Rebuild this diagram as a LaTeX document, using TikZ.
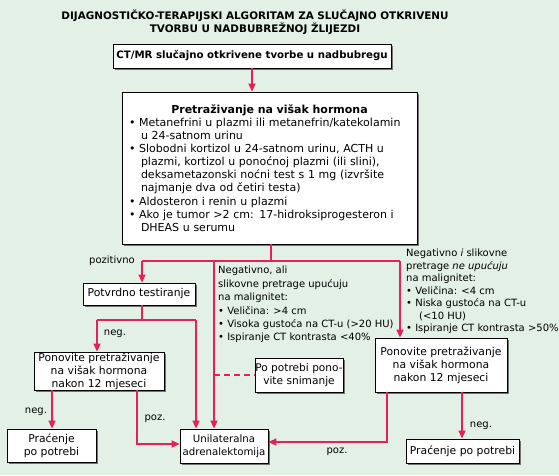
\documentclass[tikz,border=0pt]{standalone}
\usepackage{fontspec}
\setmainfont{DejaVu Sans}
\usetikzlibrary{arrows.meta,shadows}
\definecolor{bgcol}{RGB}{226,240,229}
\definecolor{linkred}{RGB}{230,32,88}
\begin{document}
\begin{tikzpicture}[x=1pt,y=-1pt,
  box/.style={draw=black,line width=0.8pt,fill=white,
    drop shadow={shadow xshift=2pt,shadow yshift=-2pt,fill=black!55,opacity=1},
    inner sep=0pt,align=center,font=\fontsize{10.8}{13}\selectfont},
  conn/.style={draw=linkred,line width=1.6pt},
  redarrow/.style={conn,-{Triangle[length=8pt,width=7pt]}},
  lbl/.style={font=\fontsize{10}{12}\selectfont,inner sep=0pt},
  txtblock/.style={font=\fontsize{10}{12.3}\selectfont,inner sep=0pt,align=left,anchor=north west},
]
\fill[bgcol] (0,0) rectangle (559,475);
\useasboundingbox (0,0) rectangle (559,475);

\node[font=\fontsize{10.4}{12.8}\selectfont\bfseries,align=center,inner sep=0pt] (title) at (255,22)
  {DIJAGNOSTIČKO-TERAPIJSKI ALGORITAM ZA SLUČAJNO OTKRIVENU\\TVORBU U NADBUBREŽNOJ ŽLIJEZDI};

\node[box,minimum width=278pt,minimum height=24pt,font=\fontsize{10.2}{12}\selectfont\bfseries] (ct) at (252,56)
  {CT/MR slučajno otkrivene tvorbe u nadbubregu};

\node[box,minimum width=295pt,minimum height=152pt,text width=281pt,align=left,
  font=\fontsize{11}{13.1}\selectfont] (hor) at (269.5,168)
  {\makebox[\hsize][c]{\bfseries Pretraživanje na višak hormona}\\
   \mbox{• Metanefrini u plazmi ili metanefrin/katekolamin}\\
   \hspace*{12pt}u 24-satnom urinu\\
   \mbox{• Slobodni kortizol u 24-satnom urinu, ACTH u}\\
   \hspace*{12pt}\mbox{plazmi, kortizol u ponoćnoj plazmi (ili slini),}\\
   \hspace*{12pt}\mbox{deksametazonski noćni test s 1 mg (izvršite}\\
   \hspace*{12pt}najmanje dva od četiri testa)\\
   • Aldosteron i renin u plazmi\\
   \mbox{• Ako je tumor >2 cm: 17-hidroksiprogesteron i}\\
   \hspace*{12pt}DHEAS u serumu};

\node[box,minimum width=112pt,minimum height=22pt] (pot) at (139,294) {Potvrdno testiranje};
\node[box,minimum width=130pt,minimum height=38pt] (lpon) at (99,371)
  {Ponovite pretraživanje\\na višak hormona\\nakon 12 mjeseci};
\node[box,minimum width=88pt,minimum height=34pt,font=\fontsize{10.6}{12.5}\selectfont] (ppp) at (299,375)
  {Po potrebi pono-\\vite snimanje};
\node[box,minimum width=132pt,minimum height=54pt] (rpon) at (441,365)
  {Ponovite pretraživanje\\na višak hormona\\nakon 12 mjeseci};
\node[box,minimum width=89pt,minimum height=33pt] (pracl) at (51.5,445.5)
  {Praćenje\\po potrebi};
\node[box,minimum width=88pt,minimum height=34pt,font=\fontsize{10.2}{12.5}\selectfont] (uni) at (224,446)
  {Unilateralna\\adrenalektomija};
\node[box,minimum width=113pt,minimum height=24pt] (pracr) at (462.5,451)
  {Praćenje po potrebi};

\node[txtblock,font=\fontsize{10}{13.4}\selectfont] (midtxt) at (218,266)
  {Negativno, ali\\
   slikovne pretrage upućuju\\
   na malignitet:\\
   • Veličina: >4 cm\\
   • Visoka gustoća na CT-u (>20 HU)\\
   • Ispiranje CT kontrasta <40\%};

\node[txtblock,font=\fontsize{10}{12.5}\selectfont] (righttxt) at (406,249)
  {Negativno \textit{i} slikovne\\
   pretrage \textit{ne upućuju}\\
   na malignitet:\\
   • Veličina: <4 cm\\
   • Niska gustoća na CT-u\\
   \hspace*{13pt}(<10 HU)\\
   • Ispiranje CT kontrasta >50\%};

\node[lbl] (lpoz) at (112,261) {pozitivno};
\node[lbl] (lneg1) at (115,334) {neg.};
\node[lbl] (lneg2) at (36,412) {neg.};
\node[lbl] (lpoz2) at (155,419) {poz.};
\node[lbl] (lpoz3) at (337,452) {poz.};
\node[lbl] (lneg3) at (481,426) {neg.};

% connectors
\draw[redarrow] (ct.south) -- (ct.south |- hor.north);
\coordinate (j) at (271,261);
\coordinate (jl) at (142,261);
\coordinate (jm) at (214,261);
\coordinate (jr) at (400,261);
\draw[conn] (j |- hor.south) -- (j);
\draw[conn] (jl) -- (jr);
\draw[redarrow] (jl) -- (jl |- pot.north);
\draw[redarrow] (jm) -- (jm |- uni.north);
\draw[redarrow] (jr) -- (jr |- rpon.north);

\coordinate (pc) at (142,320);
\coordinate (pl) at (97,320);
\coordinate (pr) at (196,320);
\draw[conn] (pc |- pot.south) -- (pc);
\draw[conn] (pl) -- (pr);
\draw[redarrow] (pl) -- (pl |- lpon.north);
\draw[redarrow] (pr) -- (pr |- uni.north);

\draw[conn,dash pattern=on 6pt off 4pt] (jm |- ppp.west) -- (ppp.west);

\coordinate (a1) at (52,400);
\draw[redarrow] (a1 |- lpon.south) -- (a1 |- pracl.north);
\coordinate (a2) at (137,444);
\draw[redarrow] (a2 |- lpon.south) -- (a2) -- (uni.west |- a2);
\coordinate (a3) at (387,442);
\draw[redarrow] (a3 |- rpon.south) -- (a3) -- (uni.east |- a3);
\coordinate (a4) at (462,420);
\draw[redarrow] (a4 |- rpon.south) -- (a4 |- pracr.north);
\end{tikzpicture}
\end{document}
